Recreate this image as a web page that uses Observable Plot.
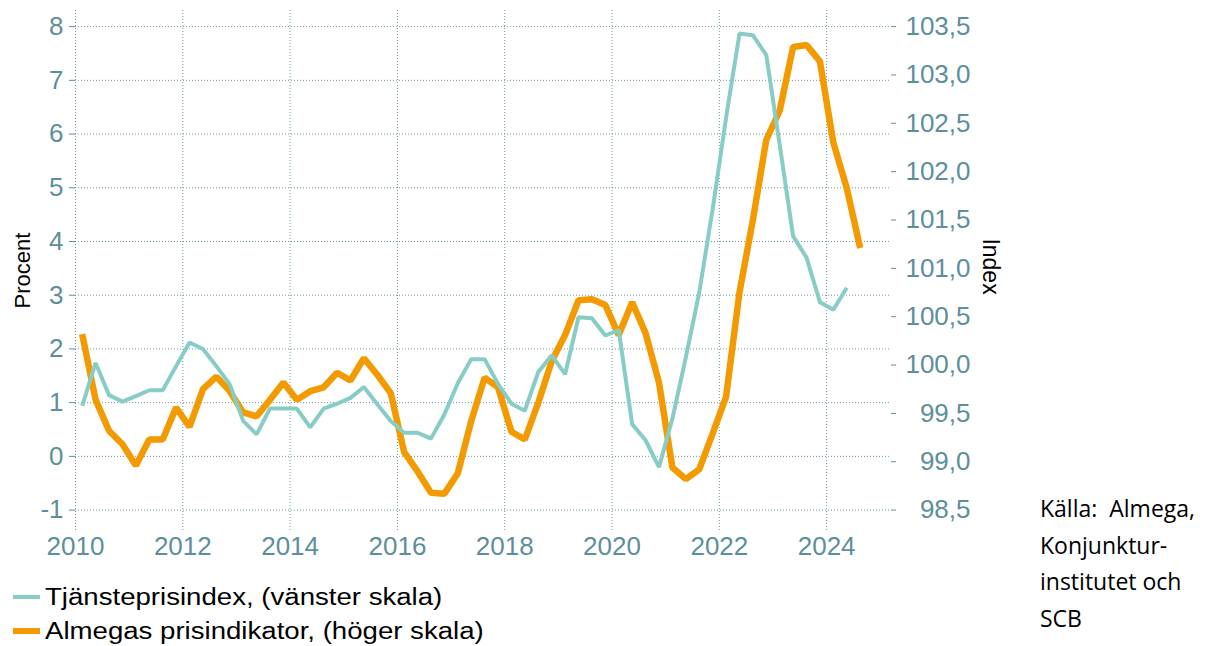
<!DOCTYPE html>
<html><head><meta charset="utf-8">
<script src="https://cdn.jsdelivr.net/npm/d3@7"></script>
<script src="https://cdn.jsdelivr.net/npm/@observablehq/plot@0.6"></script>
<style>
body{margin:0;background:#fff;font-family:"Liberation Sans",Arial,sans-serif;}
#wrap{position:relative;width:1206px;height:646px;overflow:hidden;}
#legend{position:absolute;left:13px;top:580px;font-size:23px;color:#000;}
.item{display:flex;align-items:center;height:34px;white-space:nowrap;}
.sw{width:27px;margin-right:5px;}
.lbl{display:inline-block;transform:scaleX(1.2);transform-origin:left center;}
#source{position:absolute;left:1040px;top:490px;font-family:"Open Sans",sans-serif;font-size:23px;line-height:36.5px;color:#000;white-space:nowrap;}
</style></head><body>
<div id="wrap"><div id="chart"></div><div id="legend"></div>
<div id="source">Källa:&nbsp; Almega,<br>Konjunktur-<br>institutet och<br>SCB</div></div>
<script>
const startYear = 2010;
// Tjänsteprisindex, quarterly from 2010 Q1 (percent, left scale)
const tjansteprisindex = [
  0.94, 1.74, 1.14, 1.02,
  1.12, 1.23, 1.23, 1.68,
  2.12, 2.00, 1.68, 1.34,
  0.66, 0.41, 0.89, 0.89,
  0.89, 0.54, 0.89, 0.98,
  1.09, 1.29, 0.97, 0.66,
  0.44, 0.44, 0.33, 0.78,
  1.36, 1.81, 1.81, 1.35,
  0.98, 0.85, 1.57, 1.88,
  1.53, 2.59, 2.57, 2.25,
  2.35, 0.60, 0.30, -0.20,
  0.70, 1.84, 3.05, 4.60,
  6.30, 7.87, 7.84, 7.47,
  5.80, 4.10, 3.70, 2.87,
  2.73, 3.14
];
// Almegas prisindikator, quarterly from 2010 Q1 (index, right scale)
const prisindikator = [
  100.32, 99.64, 99.32, 99.18,
  98.96, 99.23, 99.23, 99.56,
  99.36, 99.75, 99.88, 99.73,
  99.51, 99.47, 99.64, 99.82,
  99.64, 99.73, 99.77, 99.92,
  99.84, 100.07, 99.90, 99.71,
  99.10, 98.90, 98.68, 98.67,
  98.88, 99.42, 99.87, 99.77,
  99.31, 99.23, 99.61, 100.04,
  100.31, 100.67, 100.68, 100.62,
  100.31, 100.65, 100.33, 99.82,
  98.94, 98.82, 98.92, 99.29,
  99.67, 100.75, 101.50, 102.33,
  102.63, 103.29, 103.31, 103.14,
  102.30, 101.83, 101.21
];
const leftTicks = [-1, 0, 1, 2, 3, 4, 5, 6, 7, 8];
const rightTicks = [98.5, 99.0, 99.5, 100.0, 100.5, 101.0, 101.5, 102.0, 102.5, 103.0, 103.5];
const yearTicks = [2010, 2012, 2014, 2016, 2018, 2020, 2022, 2024];
const seriesNames = ["Tjänsteprisindex, (vänster skala)", "Almegas prisindikator, (höger skala)"];
const colors = ["#88ccc6", "#f39a00"];
const swatchHeights = [4, 6];
const axisColor = "#5c8f9b";

const qTime = i => startYear + Math.floor(i / 4) + (i % 4) / 4 + 0.125;
// map right-scale index values onto the left scale range
const toLeft = r => -1 + (r - 98.5) * 9 / 5;
const toRight = l => 98.5 + (l + 1) * 5 / 9;

const teal = tjansteprisindex.map((v, i) => ({t: qTime(i), v}));
const orange = prisindikator.map((v, i) => ({t: qTime(i), v}));

const chart = Plot.plot({
  width: 1206,
  height: 570,
  marginLeft: 75,
  marginRight: 316,
  marginTop: 10,
  marginBottom: 40,
  style: {fontFamily: "Liberation Sans, Arial, sans-serif", background: "#fff"},
  x: {domain: [2010, 2025.19]},
  y: {domain: [-1.38, 8.3]},
  marks: [
    Plot.gridY(leftTicks, {stroke: axisColor, strokeOpacity: 0.9, strokeDasharray: "1,2"}),
    Plot.gridX(yearTicks, {stroke: axisColor, strokeOpacity: 0.9, strokeDasharray: "1,2"}),
    Plot.line(orange, {x: "t", y: d => toLeft(d.v), stroke: colors[1], strokeWidth: 6.5, strokeLinejoin: "miter", strokeLinecap: "butt"}),
    Plot.line(teal, {x: "t", y: "v", stroke: colors[0], strokeWidth: 4, strokeLinejoin: "miter", strokeLinecap: "butt"}),
    Plot.axisX(yearTicks, {tickSize: 0, tickPadding: 6, tickFormat: d => String(d), fontSize: 26, color: axisColor, label: null}),
    Plot.axisY(leftTicks, {anchor: "left", tickSize: 6, tickPadding: 6, tickFormat: d => String(d), fontSize: 26, color: axisColor, label: null}),
    Plot.axisY(rightTicks.map(toLeft), {anchor: "right", tickSize: 5, tickPadding: 75, textAnchor: "end",
      tickFormat: l => toRight(l).toFixed(1).replace(".", ","), fontSize: 26, color: axisColor, label: null}),
    Plot.text(["Procent"], {frameAnchor: "left", dx: -53, rotate: -90, textAnchor: "middle", fontSize: 22, fill: "#000"}),
    Plot.text(["Index"], {frameAnchor: "right", dx: 100, dy: -4, rotate: 90, textAnchor: "middle", fontSize: 23, fill: "#000"})
  ]
});
document.getElementById("chart").appendChild(chart);

const legend = document.getElementById("legend");
seriesNames.forEach((n, i) => {
  const row = document.createElement("div");
  row.className = "item";
  row.innerHTML = `<span class="sw" style="background:${colors[i]};height:${swatchHeights[i]}px"></span><span class="lbl">${n}</span>`;
  legend.appendChild(row);
});
</script>
</body></html>
